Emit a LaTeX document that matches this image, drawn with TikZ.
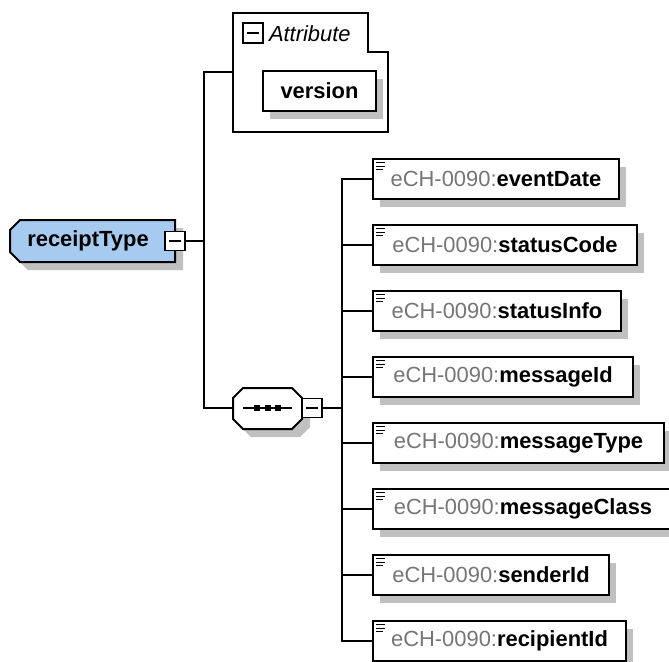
\documentclass[tikz,border=0pt]{standalone}
\usepackage{fontspec}
\setmainfont{Liberation Sans}
\usetikzlibrary{shadows}
\definecolor{rootblue}{RGB}{166,202,240}
\definecolor{shadowgray}{RGB}{192,192,192}
\definecolor{nsgray}{RGB}{118,118,118}
\begin{document}
\begin{tikzpicture}[x=1bp,y=-1bp,
  font=\fontsize{22}{26}\selectfont,
  line width=2bp,
  shad/.style={drop shadow={shadow xshift=7bp,shadow yshift=-8bp,fill=shadowgray,opacity=1}},
  childbox/.style={draw,fill=white,shad,line width=2bp,minimum height=40bp,anchor=north west,inner sep=0pt},
  minusbox/.style={draw,fill=white,line width=1.5bp,minimum width=20bp,minimum height=19bp,inner sep=0pt},
  minus/.style={line width=1.2bp},
  outline/.style={draw,line width=2bp},
  conn/.style={line width=1.8bp}
]
\useasboundingbox (0,0) rectangle (669,662);
% root
\fill[shadowgray] (28,228) -- (183,228) -- (183,270) -- (28,270) -- (18,260) -- (18,238) -- cycle;
\path[outline,fill=rootblue] (20,220) -- (175,220) -- (175,262) -- (20,262) -- (10,252) -- (10,230) -- cycle;
\node[inner sep=0pt] (root) at (88,241) {\textbf{receiptType}};
\node[minusbox] (rootm) at (175,241) {};
\draw[minus] ([xshift=-6bp]rootm.center) -- ([xshift=6bp]rootm.center);
\coordinate (rs) at (204,241);
\draw[conn] (rootm.east) -- (rs);
% attribute group
\draw[outline] (233,13) -- (368,13) -- (368,52) -- (388,52) -- (388,132) -- (233,132) -- cycle;
\coordinate (attrw) at (233,72);
\node[minusbox,minimum width=20bp,minimum height=20bp] (attrm) at (253,33) {};
\draw[minus] ([xshift=-6bp]attrm.center) -- ([xshift=6bp]attrm.center);
\node[anchor=west,inner sep=0pt] (attrt) at (268,34) {\textit{Attribute}};
\node[childbox,minimum width=113bp] (ver) at (262,70) {\textbf{version}};
\draw[conn] (rs) |- (attrw);
% sequence
\fill[shadowgray] (251,396) -- (300,396) -- (310,406) -- (310,427) -- (300,437) -- (251,437) -- (241,427) -- (241,406) -- cycle;
\path[outline,fill=white] (243,388) -- (292,388) -- (302,398) -- (302,419) -- (292,429) -- (243,429) -- (233,419) -- (233,398) -- cycle;
\coordinate (seqw) at (233,408);
\draw[line width=1.5bp] (243,408) -- (292,408);
\foreach \sx in {257,268,278} \fill (\sx-3,405) rectangle (\sx+3,411);
\node[minusbox] (seqm) at (312,408) {};
\draw[minus] ([xshift=-6bp]seqm.center) -- ([xshift=6bp]seqm.center);
\draw[conn] (rs) |- (seqw);
\coordinate (sp) at (342,408);
\draw[conn] (seqm.east) -- (sp);
% children
\foreach \t/\w/\y [count=\k from 0] in {eventDate/246/158,statusCode/264/224,statusInfo/248/290,messageId/260/356,messageType/291/422,messageClass/300/488,senderId/236/554,recipientId/253/620}{
  \node[childbox,minimum width=\w bp] (c\k) at (372,\y) {\textcolor{nsgray}{eCH-0090:}\textbf{\t}};
  \draw[line width=1bp] ([shift={(4bp,-4.5bp)}]c\k.north west) -- ++(9bp,0bp);
  \draw[line width=1bp] ([shift={(4bp,-8bp)}]c\k.north west) -- ++(9bp,0bp);
  \draw[line width=1bp] ([shift={(4bp,-11.5bp)}]c\k.north west) -- ++(7bp,0bp);
  \draw[conn] (sp) |- (c\k.west);
}
\end{tikzpicture}
\end{document}
